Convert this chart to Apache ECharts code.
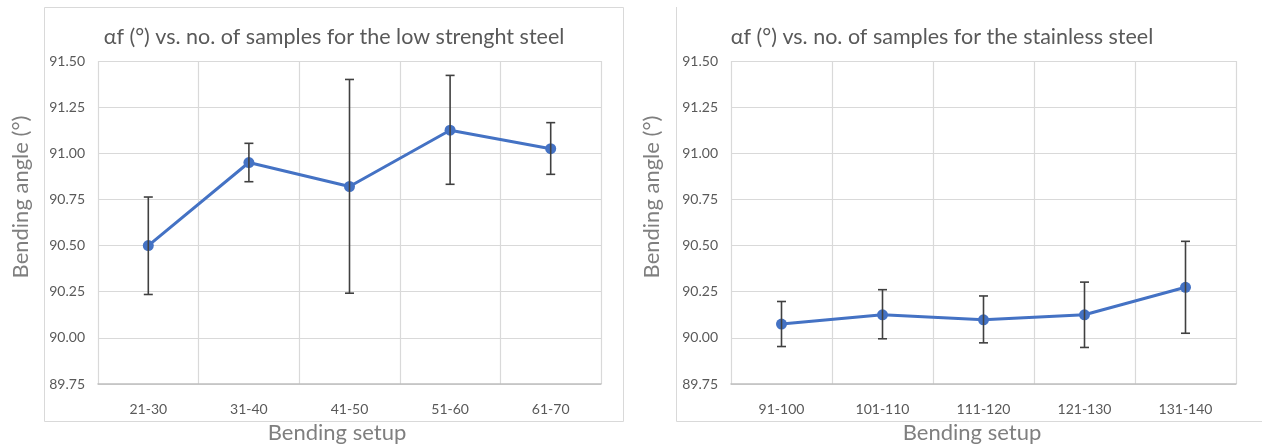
<!DOCTYPE html>
<html>
<head>
<meta charset="utf-8">
<script src="https://cdn.jsdelivr.net/npm/echarts@6/dist/echarts.min.js"></script>
<style>
  html, body { margin: 0; padding: 0; background: #fff; }
  #main { width: 1264px; height: 447px; }
</style>
</head>
<body>
<div id="main"></div>
<script>
// low strength steel
var low_cats = ['21-30', '31-40', '41-50', '51-60', '61-70'];
var low_mean = [90.50, 90.95, 90.82, 91.125, 91.025];
var low_err_lo = [90.235, 90.846, 90.242, 90.832, 90.886];
var low_err_hi = [90.763, 91.054, 91.40, 91.422, 91.166];

// stainless steel
var ss_cats = ['91-100', '101-110', '111-120', '121-130', '131-140'];
var ss_mean = [90.075, 90.125, 90.098, 90.125, 90.274];
var ss_err_lo = [89.953, 89.995, 89.973, 89.948, 90.025];
var ss_err_hi = [90.197, 90.261, 90.227, 90.302, 90.523];

var y_min = 89.75, y_max = 91.5, y_step = 0.25;

var grey = '#595959';
var gridCol = '#d9d9d9';
var labelFont = "Lato, sans-serif";
var titleFont = "Lato, 'Open Sans', sans-serif";

function errData(lo, hi){
    var d = [];
    for(var i = 0; i < lo.length; i++){
        d.push([i, lo[i], hi[i]]);
    }
    return d;
}

function errRender(params, api){
    var x = api.value(0);
    var top = api.coord([x, api.value(2)]);
    var bot = api.coord([x, api.value(1)]);
    var w = 4.5;
    var st = { stroke: '#404040', lineWidth: 1.6 };
    return {
        type: 'group',
        children: [
            { type: 'line', shape: { x1: top[0], y1: top[1], x2: bot[0], y2: bot[1] }, style: st },
            { type: 'line', shape: { x1: top[0]-w, y1: top[1], x2: top[0]+w, y2: top[1] }, style: st },
            { type: 'line', shape: { x1: bot[0]-w, y1: bot[1], x2: bot[0]+w, y2: bot[1] }, style: st }
        ]
    };
}

function mkX(idx, cats){
    return {
        type: 'category', gridIndex: idx, data: cats, boundaryGap: true,
        axisTick: { show: false },
        axisLine: { lineStyle: { color: '#bfbfbf', width: 1.5 } },
        axisLabel: { color: grey, fontSize: 14, fontFamily: labelFont, margin: 18 },
        splitLine: { show: true, lineStyle: { color: gridCol, width: 1.2 } }
    };
}

function mkY(idx){
    return {
        type: 'value', gridIndex: idx, min: y_min, max: y_max, interval: y_step,
        axisLine: { show: false }, axisTick: { show: false },
        axisLabel: { color: grey, fontSize: 14, fontFamily: labelFont, margin: 13,
            formatter: function(v){ return v.toFixed(2); } },
        splitLine: { lineStyle: { color: gridCol, width: 1.2 } }
    };
}

function lineSeries(idx, data){
    return {
        type: 'line', xAxisIndex: idx, yAxisIndex: idx, data: data,
        symbol: 'circle', symbolSize: 11,
        lineStyle: { color: '#4472C4', width: 3 },
        itemStyle: { color: '#4472C4' },
        z: 3
    };
}

function errSeries(idx, lo, hi){
    return {
        type: 'custom', xAxisIndex: idx, yAxisIndex: idx,
        data: errData(lo, hi), renderItem: errRender,
        encode: { x: 0, y: [1, 2] }, z: 4
    };
}

function txt(s, x, y, size, col, rot){
    return {
        type: 'text', x: x, y: y, rotation: rot || 0, silent: true,
        style: { text: s, fill: col, font: size + 'px ' + titleFont, align: 'center', verticalAlign: 'middle' }
    };
}

var chart = echarts.init(document.getElementById('main'));
var option = {
    animation: false,
    backgroundColor: '#fff',
    grid: [
        { left: 98, top: 61, width: 503, height: 323 },
        { left: 731, top: 61, width: 505, height: 323 }
    ],
    xAxis: [mkX(0, low_cats), mkX(1, ss_cats)],
    yAxis: [mkY(0), mkY(1)],
    series: [
        lineSeries(0, low_mean),
        errSeries(0, low_err_lo, low_err_hi),
        lineSeries(1, ss_mean),
        errSeries(1, ss_err_lo, ss_err_hi)
    ],
    graphic: [
        { type: 'rect', shape: { x: 44.5, y: 7.5, width: 579, height: 414 }, silent: true,
          style: { fill: 'none', stroke: gridCol, lineWidth: 1 }, z: -1 },
        { type: 'polyline', shape: { points: [[676.5, 7], [676.5, 421.5], [1262, 421.5]] }, silent: true,
          style: { fill: 'none', stroke: gridCol, lineWidth: 1 }, z: -1 },
        txt('αf (°) vs. no. of samples for the low strenght steel', 334, 37, 21.5, grey),
        txt('αf (°) vs. no. of samples for the stainless steel', 942, 37, 21.5, grey),
        txt('Bending setup', 337, 433, 22, '#7f7f7f'),
        txt('Bending setup', 972, 433, 22, '#7f7f7f'),
        txt('Bending angle (°)', 21, 197, 22, '#7f7f7f', Math.PI / 2),
        txt('Bending angle (°)', 652, 197, 22, '#7f7f7f', Math.PI / 2)
    ]
};
chart.setOption(option);
</script>
</body>
</html>
